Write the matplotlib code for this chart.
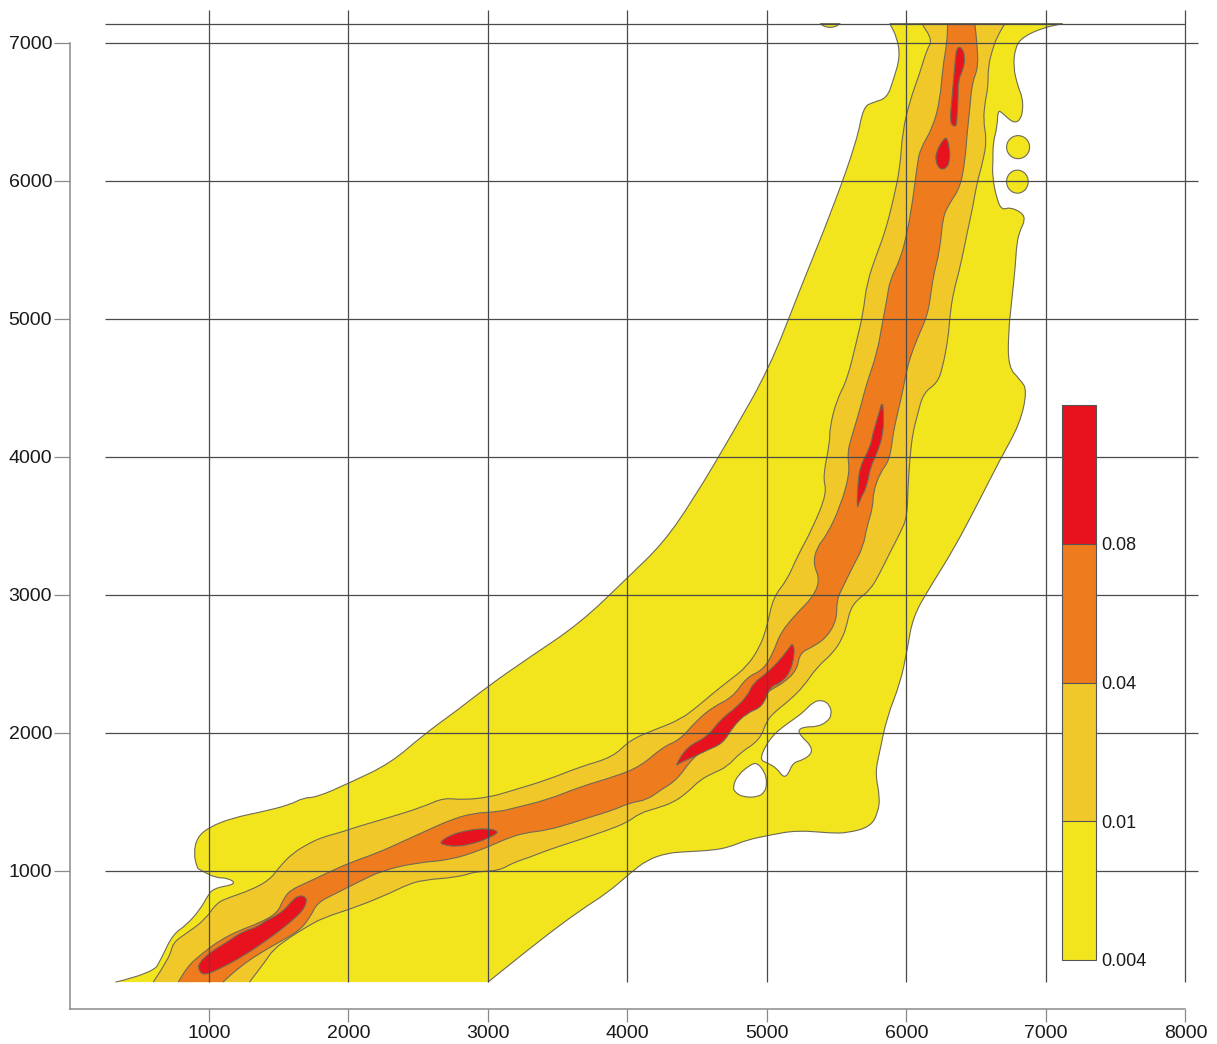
import matplotlib
matplotlib.use("Agg")
import matplotlib.pyplot as plt
from matplotlib.patches import Ellipse, PathPatch
from matplotlib.path import Path
from matplotlib.colors import ListedColormap, BoundaryNorm
import matplotlib.colorbar as mcolorbar

plt.rcParams['font.family'] = ['Liberation Sans', 'DejaVu Sans']

# ---------------- data ----------------
levels = [0.004, 0.01, 0.04, 0.08]
level_labels = ["0.004", "0.01", "0.04", "0.08"]
level_colors = ["#F2E51E", "#F0C82A", "#EE7B1E", "#E8111E"]

x_ticks = [1000, 2000, 3000, 4000, 5000, 6000, 7000, 8000]
y_ticks = [1000, 2000, 3000, 4000, 5000, 6000, 7000]

# extent of the gridded data
grid_y_bottom = 195
grid_y_top = 7140

# outline of the >= 0.004 region (open along the bottom data edge)
yellow_outline = [
    (330, 195), (600, 260), (660, 370), (740, 540), (840, 610), (935, 720), (985, 810), (1030, 875),
    (1200, 905), (1135, 950), (1045, 950),
    (935, 1010), (915, 1020), (890, 1130), (915, 1245), (1005, 1320), (1170, 1385), (1385, 1430),
    (1580, 1480), (1675, 1530), (1775, 1535), (2010, 1640), (2300, 1780), (2535, 1985), (2780, 2165),
    (3015, 2350), (3300, 2550), (3660, 2795), (4005, 3130), (4255, 3375), (4470, 3690), (4755, 4175),
    (5020, 4650), (5235, 5210), (5475, 5810), (5645, 6295), (5690, 6535), (5760, 6570), (5860, 6600),
    (5905, 6730), (5955, 6900), (5930, 7045), (5880, 7140),
    (7120, 7140), (6980, 7110), (6835, 7045), (6780, 6970), (6765, 6825), (6800, 6680), (6830, 6610),
    (6835, 6515), (6815, 6440), (6765, 6420), (6690, 6490), (6655, 6515), (6650, 6390), (6620, 6275),
    (6620, 6150), (6615, 6030), (6650, 5860), (6685, 5790), (6740, 5810), (6830, 5770), (6850, 5715),
    (6815, 5645), (6790, 5550), (6780, 5375), (6755, 5140), (6730, 4900), (6730, 4650), (6815, 4560),
    (6865, 4485), (6815, 4245), (6670, 3980), (6525, 3690), (6335, 3325), (6170, 3060), (6045, 2840),
    (6005, 2600), (5955, 2360), (5860, 2115), (5810, 1875), (5775, 1710), (5810, 1535), (5795, 1420),
    (5740, 1320), (5575, 1275), (5450, 1275), (5215, 1295), (5020, 1260), (4855, 1225), (4735, 1175),
    (4615, 1150), (4425, 1140), (4285, 1130), (4140, 1080), (4020, 985), (3855, 840), (3660, 715),
    (3375, 500), (3000, 195),
]
yellow_sliver = [(5380, 7140), (5525, 7140), (5480, 7112), (5420, 7114)]
yellow_blobs = [  # (x centre, y centre, width, height)
    (6800, 6245, 165, 167),
    (6795, 5995, 155, 167),
]
white_hole_big = [
    (4950, 1805), (4985, 1900), (5045, 1985), (5115, 2045), (5185, 2095), (5260, 2150), (5330, 2225),
    (5395, 2240), (5450, 2205), (5465, 2130), (5430, 2080), (5360, 2045), (5270, 2045), (5220, 2020),
    (5250, 1970), (5310, 1915), (5325, 1855), (5260, 1805), (5185, 1785), (5150, 1695), (5115, 1680),
    (5070, 1745), (5000, 1785),
]
white_hole_small = [
    (4755, 1610), (4790, 1695), (4880, 1770), (4930, 1785), (4985, 1715), (5000, 1640), (4985, 1570),
    (4930, 1535), (4830, 1535), (4770, 1570),
]

# outline of the >= 0.01 region
gold_outline = [
    (600, 195), (720, 375), (740, 480), (840, 550), (970, 645), (1055, 770), (1150, 810), (1295, 860),
    (1435, 935), (1505, 1030), (1600, 1130), (1725, 1205), (1815, 1245), (1960, 1285), (2060, 1320),
    (2300, 1390), (2535, 1465), (2680, 1530), (2820, 1515), (3015, 1535), (3180, 1585), (3425, 1660),
    (3660, 1755), (3895, 1825), (4020, 1950), (4185, 2020), (4375, 2095), (4500, 2190), (4615, 2290),
    (4735, 2385), (4855, 2480), (4950, 2625), (5000, 2770), (5045, 2985), (5145, 3110), (5215, 3275),
    (5330, 3490), (5430, 3740), (5400, 3855), (5450, 4100), (5450, 4215), (5500, 4415), (5575, 4560),
    (5645, 4850), (5690, 5045), (5715, 5260), (5790, 5480), (5845, 5625), (5905, 5860), (5955, 6100),
    (5970, 6350), (6025, 6585), (6095, 6780), (6145, 6950), (6185, 7020), (6110, 7140),
    (6705, 7140), (6650, 7045), (6615, 6950), (6585, 6825), (6585, 6680), (6565, 6585), (6550, 6440),
    (6575, 6295), (6550, 6150), (6505, 5985), (6475, 5810), (6435, 5625), (6385, 5375), (6335, 5190),
    (6310, 5015), (6300, 4870), (6260, 4650), (6220, 4535), (6120, 4465), (6075, 4290), (6045, 4175),
    (6025, 4000), (6010, 3780), (6005, 3565), (5955, 3450), (5880, 3305), (5810, 3160), (5740, 3035),
    (5645, 2965), (5595, 2890), (5575, 2795), (5545, 2695), (5475, 2580), (5360, 2480), (5260, 2335),
    (5165, 2240), (5070, 2165), (5000, 2095), (4950, 1950), (4805, 1855), (4715, 1755), (4615, 1710),
    (4520, 1660), (4425, 1565), (4325, 1495), (4210, 1455), (4090, 1420), (3995, 1350), (3855, 1295),
    (3710, 1245), (3590, 1205), (3425, 1150), (3300, 1100), (3180, 1060), (3085, 1005), (2945, 995),
    (2895, 990), (2780, 955), (2535, 935), (2420, 900), (2300, 840), (2060, 740), (1815, 660),
    (1700, 595), (1580, 520), (1460, 430), (1400, 340), (1290, 195),
]

# outline of the >= 0.04 region
orange_outline = [
    (780, 195), (840, 305), (955, 405), (1080, 500), (1220, 570), (1365, 625), (1490, 695), (1530, 790),
    (1580, 860), (1700, 915), (1845, 985), (2010, 1060), (2205, 1130), (2370, 1205), (2565, 1295),
    (2730, 1370), (2895, 1420), (3085, 1430), (3180, 1455), (3425, 1515), (3660, 1610), (3895, 1680),
    (4090, 1755), (4255, 1900), (4375, 1950), (4500, 2095), (4615, 2190), (4755, 2260), (4855, 2405),
    (4970, 2455), (5045, 2580), (5095, 2725), (5215, 2870), (5330, 2985), (5380, 3110), (5330, 3230),
    (5360, 3350), (5430, 3435), (5525, 3640), (5595, 3885), (5575, 4030), (5615, 4175), (5665, 4340),
    (5715, 4535), (5790, 4755), (5830, 4990), (5860, 5140), (5880, 5280), (5955, 5430), (6005, 5625),
    (6045, 5860), (6075, 6100), (6095, 6225), (6190, 6390), (6240, 6585), (6260, 6825), (6290, 7000),
    (6295, 7140),
    (6490, 7140), (6505, 7000), (6515, 6825), (6470, 6710), (6455, 6535), (6435, 6350), (6420, 6150),
    (6385, 5955), (6310, 5840), (6260, 5740), (6240, 5500), (6190, 5305), (6170, 5140), (6145, 5015),
    (6095, 4900), (6045, 4775), (6005, 4650), (5975, 4485), (5930, 4290), (5905, 4175), (5880, 3980),
    (5810, 3885), (5760, 3740), (5760, 3640), (5715, 3490), (5690, 3350), (5615, 3205), (5545, 3060),
    (5500, 2965), (5500, 2820), (5430, 2695), (5330, 2625), (5235, 2580), (5215, 2455), (5115, 2360),
    (5020, 2310), (4930, 2240), (4830, 2190), (4755, 2115), (4685, 2020), (4590, 1900), (4470, 1825),
    (4355, 1660), (4235, 1585), (4140, 1515), (4020, 1495), (3895, 1440), (3730, 1390), (3610, 1350),
    (3425, 1295), (3250, 1275), (3110, 1225), (2945, 1150), (2730, 1080), (2490, 1060), (2245, 1005),
    (2060, 915), (1915, 840), (1775, 770), (1725, 665), (1650, 570), (1530, 500), (1365, 405),
    (1220, 305), (1100, 195),
]

# the >= 0.08 patches
red_patch_1 = [
    (920, 295), (955, 245), (1030, 270), (1130, 320), (1220, 370), (1315, 430), (1415, 500), (1510, 570),
    (1600, 645), (1665, 705), (1700, 770), (1695, 810), (1650, 825), (1600, 790), (1560, 740),
    (1510, 695), (1460, 665), (1415, 645), (1345, 595), (1270, 570), (1200, 535), (1130, 485),
    (1055, 440), (985, 390), (935, 340),
]
red_patch_2 = [
    (2655, 1210), (2730, 1260), (2850, 1295), (2995, 1310), (3085, 1285), (3015, 1245), (2920, 1205),
    (2780, 1175), (2675, 1190),
]
red_patch_3 = [
    (4340, 1755), (4425, 1900), (4570, 1970), (4665, 2095), (4755, 2165), (4855, 2260), (4900, 2360),
    (5000, 2435), (5095, 2530), (5165, 2625), (5185, 2650), (5200, 2580), (5165, 2435), (5095, 2360),
    (5020, 2335), (4970, 2190), (4855, 2145), (4755, 2045), (4685, 1925), (4570, 1875), (4470, 1825),
    (4375, 1785),
]
red_patch_4 = [
    (5645, 3615), (5650, 3780), (5665, 3930), (5740, 4070), (5760, 4175), (5810, 4340), (5825, 4400),
    (5835, 4340), (5835, 4175), (5790, 4030), (5740, 3925), (5715, 3780), (5665, 3690),
]
red_patch_5 = [
    (6205, 6150), (6220, 6225), (6260, 6295), (6290, 6320), (6310, 6225), (6310, 6150), (6290, 6095),
    (6240, 6080),
]
red_patch_6 = [
    (6310, 6420), (6325, 6585), (6335, 6710), (6350, 6875), (6360, 6970), (6400, 6965), (6420, 6890),
    (6405, 6805), (6370, 6730), (6370, 6585), (6360, 6420), (6350, 6390),
]
red_patches = [red_patch_1, red_patch_2, red_patch_3, red_patch_4, red_patch_5, red_patch_6]

# ---------------- figure ----------------
W, H = 1217, 1044
fig = plt.figure(figsize=(W / 100, H / 100), dpi=100)
ax = fig.add_axes([69.5 / W, (H - 1009) / H, (1200 - 69.5) / W, (1009 - 5) / H])
ax.set_xlim(0, 8104)
ax.set_ylim(0, 7275)

edge_c = "#6e6a55"
edge_w = 0.8


def _mid(a, b):
    return ((a[0] + b[0]) / 2.0, (a[1] + b[1]) / 2.0)


def _is_corner(p):
    return p[1] >= grid_y_top or p[1] <= grid_y_bottom


def smooth_path(pts, closed, close_fill=False):
    """Quadratic-Bezier path using the traced vertices as control points;
    vertices on the data-grid edge stay sharp."""
    verts, codes = [], []
    n = len(pts)

    def add_vertex(i, nxt):
        if _is_corner(pts[i]):
            verts.extend([pts[i], _mid(pts[i], nxt)])
            codes.extend([Path.LINETO, Path.LINETO])
        else:
            verts.extend([pts[i], _mid(pts[i], nxt)])
            codes.extend([Path.CURVE3, Path.CURVE3])

    if closed:
        start = _mid(pts[-1], pts[0])
        verts.append(start)
        codes.append(Path.MOVETO)
        for i in range(n):
            add_vertex(i, pts[(i + 1) % n])
        verts.append(start)
        codes.append(Path.CLOSEPOLY)
    else:
        verts.append(pts[0])
        codes.append(Path.MOVETO)
        for i in range(1, n - 1):
            add_vertex(i, pts[i + 1])
        verts.append(pts[-1])
        codes.append(Path.LINETO)
        if close_fill:
            verts.append(pts[0])
            codes.append(Path.CLOSEPOLY)
    return Path(verts, codes)


def open_region(pts, color, z):
    ax.add_patch(PathPatch(smooth_path(pts, False, True), facecolor=color, edgecolor="none", zorder=z))
    ax.add_patch(PathPatch(smooth_path(pts, False), fill=False, edgecolor=edge_c, lw=edge_w, zorder=z + 0.1))


def closed_region(pts, color, z):
    ax.add_patch(PathPatch(smooth_path(pts, True), facecolor=color, edgecolor=edge_c, lw=edge_w, zorder=z))


open_region(yellow_outline, level_colors[0], 1)
closed_region(yellow_sliver, level_colors[0], 1)
for (cx, cy, w, h) in yellow_blobs:
    ax.add_patch(Ellipse((cx, cy), w, h, facecolor=level_colors[0], edgecolor=edge_c, lw=edge_w, zorder=1))
closed_region(white_hole_big, "white", 1.5)
closed_region(white_hole_small, "white", 1.5)
open_region(gold_outline, level_colors[1], 2)
open_region(orange_outline, level_colors[2], 3)
for rp in red_patches:
    closed_region(rp, level_colors[3], 4)

# grid
grid_c = "#4a4a4a"
ax.hlines(y_ticks, 255, 8090, colors=grid_c, lw=0.9, zorder=5)
ax.hlines([grid_y_top], 255, 8000, colors=grid_c, lw=0.9, zorder=5)
ax.vlines(x_ticks, grid_y_bottom, 7240, colors=grid_c, lw=0.9, zorder=5)

# axes styling
for s in ["top", "right"]:
    ax.spines[s].set_visible(False)
spine_c = "#8a8a8a"
ax.spines["left"].set_bounds(0, 7000)
ax.spines["bottom"].set_bounds(0, 8000)
for s in ["left", "bottom"]:
    ax.spines[s].set_color(spine_c)
    ax.spines[s].set_linewidth(1.1)
ax.set_xticks(x_ticks)
ax.set_yticks(y_ticks)
ax.set_xticklabels([str(v) for v in x_ticks])
ax.set_yticklabels([str(v) for v in y_ticks])
ax.tick_params(axis="x", direction="out", length=9.5, width=0.9, color=spine_c, pad=2,
               labelsize=14, labelcolor="#1a1a1a")
ax.tick_params(axis="y", direction="out", length=11.5, width=0.9, color=spine_c, pad=1,
               labelsize=14, labelcolor="#1a1a1a")

# colour scale
cax = fig.add_axes([1062 / W, (H - 960) / H, 34 / W, 555 / H])
bounds = levels + [0.12]
cmap = ListedColormap(level_colors)
norm = BoundaryNorm(bounds, cmap.N)
cb = mcolorbar.ColorbarBase(cax, cmap=cmap, norm=norm, boundaries=bounds, spacing="uniform",
                            ticks=levels, drawedges=True, orientation="vertical")
cb.set_ticklabels(level_labels)
cb.outline.set_edgecolor("#555555")
cb.outline.set_linewidth(0.8)
cb.dividers.set_color("#555555")
cb.dividers.set_linewidth(0.8)
cax.minorticks_off()
cax.tick_params(which="both", length=0, pad=4, labelsize=13, labelcolor="#1a1a1a")

fig.savefig("out.png", dpi=100)
